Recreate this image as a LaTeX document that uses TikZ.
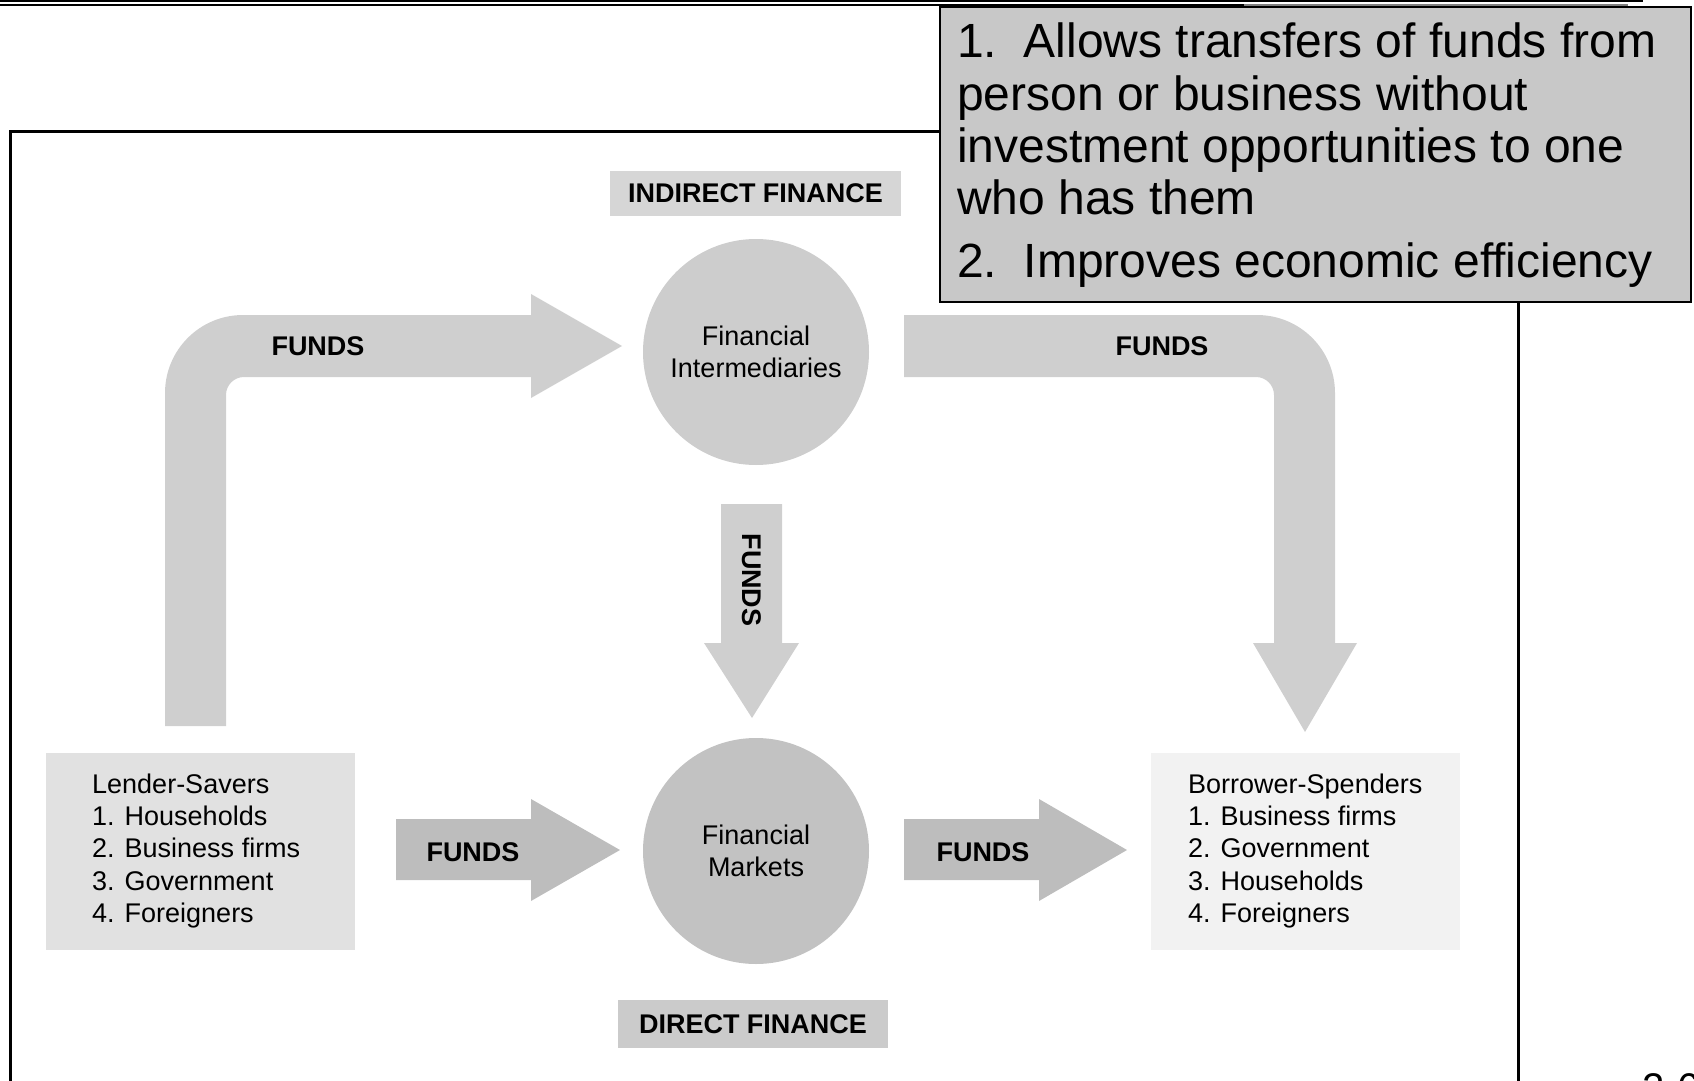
\documentclass[tikz,border=0pt]{standalone}
\usepackage{fontspec}
\setmainfont{Liberation Sans}
\definecolor{arrowlight}{HTML}{CFCFCF}
\definecolor{arrowdark}{HTML}{BDBDBD}
\definecolor{circlelight}{HTML}{CDCDCD}
\definecolor{circledark}{HTML}{C2C2C2}
\definecolor{lenderfill}{HTML}{E1E1E1}
\definecolor{borrowfill}{HTML}{F2F2F2}
\definecolor{indirfill}{HTML}{D6D6D6}
\definecolor{dirfill}{HTML}{CBCBCB}
\definecolor{notefill}{HTML}{C8C8C8}
\begin{document}
\begin{tikzpicture}[x=1pt,y=-1pt,
  lbl/.style={font=\fontsize{27}{32}\selectfont\bfseries, inner sep=0pt},
  item/.style={font=\fontsize{27}{32}\selectfont, anchor=base west, inner sep=0pt},
  bigtext/.style={font=\fontsize{48}{52}\selectfont, anchor=base west, inner sep=0pt},
  bubble/.style={circle, inner sep=0pt, minimum size=226pt, align=center, font=\fontsize{27}{32}\selectfont},
  panel/.style={rectangle, inner sep=0pt}]
\useasboundingbox (0,0) rectangle (1694,1081);
% top rules
\draw[line width=1.5pt] (0,1) -- (1643,1);
\draw[line width=2.5pt] (0,5) -- (1244,5);
\draw[line width=2.5pt, color=gray] (1244,5) -- (1628,5);
% frame
\draw[line width=3pt] (10,1110) -- (10,131) -- (1518,131) -- (1518,1110);
% panels
\node[panel, fill=lenderfill, minimum width=309pt, minimum height=197pt] (lender) at (200.5,851.5) {};
\node[panel, fill=borrowfill, minimum width=309pt, minimum height=197pt] (borrower) at (1305.5,851.5) {};
\node[panel, fill=indirfill, minimum width=291pt, minimum height=45pt] (indirect) at (755.5,193.5) {};
\node[lbl] (indirecttxt) at (755.5,193.5) {INDIRECT FINANCE};
\node[panel, fill=dirfill, minimum width=270pt, minimum height=48pt] (direct) at (753,1024) {};
\node[lbl] (directtxt) at (753,1024) {DIRECT FINANCE};
% circles
\node[bubble, fill=circlelight] (fi) at (756,352) {Financial\\Intermediaries};
\node[bubble, fill=circledark] (fm) at (756,851) {Financial\\Markets};
% block arrows
\fill[arrowlight] (165,726) -- (165,393) .. controls (165,349.9) and (199.9,315) .. (243,315)
  -- (531,315) -- (531,294) -- (622,346) -- (531,398) -- (531,377) -- (244,377)
  .. controls (234.1,377) and (226,385.1) .. (226,395) -- (226,726) -- cycle;
\fill[arrowlight] (904,315) -- (1257,315) .. controls (1300.1,315) and (1335,349.9) .. (1335,393)
  -- (1335,643) -- (1357,643) -- (1305,732) -- (1253,643) -- (1274,643) -- (1274,395)
  .. controls (1274,385.1) and (1265.9,377) .. (1256,377) -- (904,377) -- cycle;
\fill[arrowlight] (721,504) -- (782,504) -- (782,643) -- (799,643) -- (752,718) -- (704,643) -- (721,643) -- cycle;
\fill[arrowdark] (396,819) -- (531,819) -- (531,799) -- (620,850) -- (531,901) -- (531,880) -- (396,880) -- cycle;
\fill[arrowdark] (904,819) -- (1039,819) -- (1039,799) -- (1127,850) -- (1039,901) -- (1039,880) -- (904,880) -- cycle;
% arrow labels
\node[lbl] (f1) at (318,346) {FUNDS};
\node[lbl] (f2) at (1162,346) {FUNDS};
\node[lbl, rotate=-90] (f3) at (752,580) {FUNDS};
\node[lbl] (f4) at (473,852) {FUNDS};
\node[lbl] (f5) at (983,852) {FUNDS};
% lists
\foreach [count=\i from 0] \t in {Lender-Savers, 1. Households, 2. Business firms, 3. Government, 4. Foreigners}
  \node[item] (ls\i) at (92,793+32.4*\i) {\t};
\foreach [count=\i from 0] \t in {Borrower-Spenders, 1. Business firms, 2. Government, 3. Households, 4. Foreigners}
  \node[item] (bs\i) at (1188,793+32.4*\i) {\t};
% note box
\draw[fill=notefill, line width=1.5pt] (940,7) rectangle (1691,302);
\node[bigtext] (n1) at (957,58) {1.\ \ Allows transfers of funds from};
\node[bigtext] (n2) at (957,110) {person or business without};
\node[bigtext] (n3) at (957,162) {investment opportunities to one};
\node[bigtext] (n4) at (957,214) {who has them};
\node[bigtext] (n5) at (957,277) {2.\ \ Improves economic efficiency};
% page number
\node[anchor=base west, inner sep=0pt, font=\fontsize{40}{48}\selectfont] (pg) at (1642,1101) {2-6};
\end{tikzpicture}
\end{document}
